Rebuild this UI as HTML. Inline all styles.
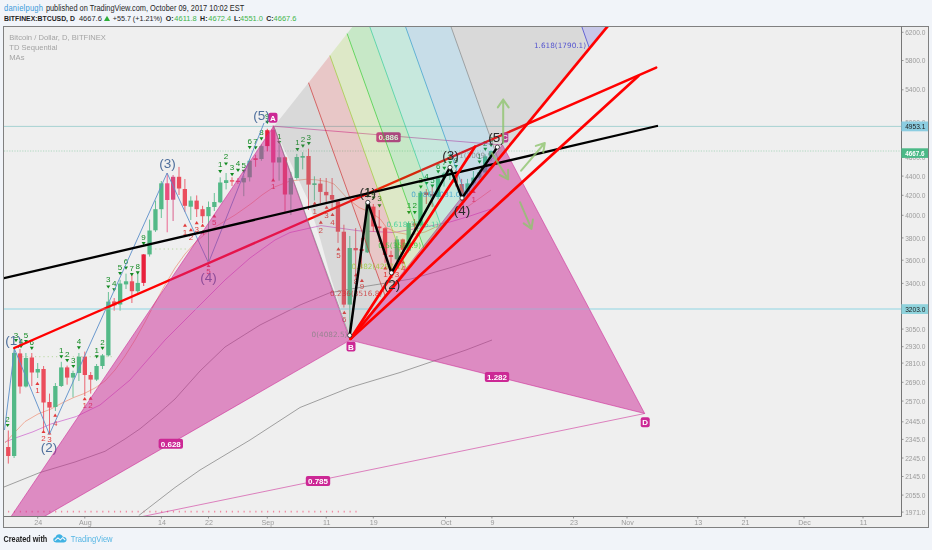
<!DOCTYPE html>
<html><head><meta charset="utf-8"><title>BTCUSD chart</title>
<style>
html,body{margin:0;padding:0}
body{width:932px;height:550px;background:#f1f4f9;position:relative;overflow:hidden;font-family:"Liberation Sans",sans-serif}
.h1,.h2,.ft{position:absolute;white-space:nowrap;color:#1f1f1f}
.h1{left:4px;top:2.6px;font-size:7.4px;line-height:12px;transform:scaleY(1.1);transform-origin:0 50%}
.h1 b{font-weight:normal;color:#3a9ad9;letter-spacing:.2px;font-size:7.6px}
.h1 span{position:absolute;left:41.9px;top:0}
.h2{left:0;top:12.9px;font-size:7.5px;line-height:12px;height:12px;width:300px;transform:scaleY(1.05);transform-origin:0 50%}
.h2 b,.h2 span,.h2 i{position:absolute;top:0}
.h2 b{font-weight:bold;font-size:7px}
.h2 i{font-style:normal;color:#3fb54a}
.h2 i.tri{left:103.9px;top:3.2px;width:0;height:0;border-left:3.1px solid transparent;border-right:3.1px solid transparent;border-bottom:5.6px solid #2fae3a}
.ft{left:3.5px;top:532.8px;font-size:7.3px;line-height:14px;font-weight:bold;color:#222;transform:scaleY(1.12);transform-origin:0 50%}
.ft span{position:absolute;left:67.3px;top:0;font-weight:normal;font-size:7.6px;color:#56b6e4}
svg text{font-family:"Liberation Sans",sans-serif}
.ax{font-size:6.6px;fill:#9a9a9a}
.axt{font-size:7.1px;fill:#9a9a9a}
.td{font-size:8px;text-anchor:middle}
.fl{font-size:7.3px;font-family:"DejaVu Sans","Liberation Sans",sans-serif}
.xl{font-size:8px;font-weight:bold}
.ew{font-size:13.5px}
.lg{font-size:7.6px;fill:#a4a4a4}
</style></head><body>
<div class="h1"><b>danielpugh</b><span>published on TradingView.com, October 09, 2017 10:02 EST</span></div>
<div class="h2"><b style="left:4px;font-size:6.87px">BITFINEX:BTCUSD, D</b><span style="left:78.9px">4667.6</span><i class="tri"></i><span style="left:112.7px;font-size:7.2px">+55.7 (+1.21%)</span><b style="left:165.8px">O:</b><i style="left:174.3px">4611.8</i><b style="left:200.1px">H:</b><i style="left:208.3px">4672.4</i><b style="left:234.1px">L:</b><i style="left:240.1px">4551.0</i><b style="left:266.2px">C:</b><i style="left:273.6px">4667.6</i></div>
<svg width="932" height="550" viewBox="0 0 932 550" style="position:absolute;left:0;top:0;will-change:transform">
<defs><clipPath id="cp"><rect x="4" y="27" width="897" height="489"/></clipPath></defs>
<rect x="3.5" y="26.5" width="925" height="501" fill="#efefef" stroke="#808080" stroke-width="1"/>
<g clip-path="url(#cp)">
<line x1="4" y1="309" x2="901" y2="309" stroke="#96d6df" stroke-width="1.2"/>
<line x1="4" y1="126.4" x2="901" y2="126.4" stroke="#a6d2d2" stroke-width="1"/>
<line x1="4" y1="151" x2="901" y2="151" stroke="#7cc79c" stroke-opacity=".62" stroke-width=".9" stroke-dasharray="1.2 1.4"/>
<line x1="14" y1="356.7" x2="112" y2="356.7" stroke="#b8d8a0" stroke-width="1" stroke-dasharray="1.2 3"/>
<line x1="151" y1="249" x2="187" y2="249" stroke="#b8d8a0" stroke-width="1" stroke-dasharray="1.2 3"/>
<line x1="8" y1="511.6" x2="358" y2="511.6" stroke="#f08aa0" stroke-width="1.6" stroke-dasharray="1.2 4.688"/>
<polyline points="4.0,487.0 40.0,472.5 75.0,462.0 105.0,451.3 125.0,439.0 140.0,428.8 158.0,414.0 175.0,399.0 200.0,371.0 225.0,347.0 260.0,325.0 300.0,305.0 329.7,292.8 367.8,286.0 411.0,279.0 450.0,267.8 491.0,255.0" fill="none" stroke="#8a8a8a" stroke-width="0.8" />
<polyline points="138.8,515.5 175.0,487.5 200.0,470.0 250.0,440.0 300.0,407.5 350.0,387.5 400.0,372.5 466.0,350.0 492.0,340.0" fill="none" stroke="#8a8a8a" stroke-width="0.8" />
<polyline points="5.0,442.0 15.3,438.0 33.0,431.8 50.9,424.0 76.3,416.5 100.0,405.0 130.0,380.0 165.0,340.0 200.0,305.0 225.0,280.0 250.0,258.0 275.0,240.0 290.0,232.5 321.0,225.6 359.0,230.8 393.7,232.5 420.0,228.0 450.0,222.0 470.0,216.0 491.0,209.0" fill="none" stroke="#d070d0" stroke-width="0.8" />
<polyline points="5.0,443.0 15.0,432.0 25.0,421.6 38.0,414.0 51.0,409.0 62.0,403.0 74.0,397.4 84.0,393.6 95.0,388.0 105.0,381.0 115.0,370.0 125.0,356.0 135.0,340.0 145.0,322.0 155.0,303.0 165.0,285.0 175.0,268.0 185.0,254.0 195.0,243.0 205.0,234.0 215.0,227.0 225.0,221.0 235.0,215.0 245.0,208.0 252.0,203.0 262.0,195.0 273.0,187.6 290.0,181.0 306.0,179.3 316.0,179.8 327.0,181.5 334.0,184.0 340.6,191.0 347.0,198.0 359.0,207.5 371.0,212.6 380.0,218.7 386.8,228.0 397.0,232.5 411.0,235.0 425.0,232.0 440.0,225.0 455.0,215.0 470.0,205.0 480.0,198.0 491.0,190.0" fill="none" stroke="#ee9a84" stroke-width="0.8" />
<line x1="8.3" y1="430.5" x2="8.3" y2="463.6" stroke="#eb4d5c" stroke-width="1" opacity=".85"/>
<rect x="6.1" y="447.0" width="4.3" height="9.0" fill="#eb4d5c"/>
<line x1="14.1" y1="349.0" x2="14.1" y2="458.0" stroke="#53b987" stroke-width="1" opacity=".85"/>
<rect x="12.0" y="352.9" width="4.3" height="103.1" fill="#53b987"/>
<line x1="20.0" y1="349.0" x2="20.0" y2="393.6" stroke="#eb4d5c" stroke-width="1" opacity=".85"/>
<rect x="17.9" y="353.4" width="4.3" height="33.1" fill="#eb4d5c"/>
<line x1="25.9" y1="353.0" x2="25.9" y2="387.5" stroke="#53b987" stroke-width="1" opacity=".85"/>
<rect x="23.8" y="358.0" width="4.3" height="28.5" fill="#53b987"/>
<line x1="31.8" y1="353.0" x2="31.8" y2="386.0" stroke="#eb4d5c" stroke-width="1" opacity=".85"/>
<rect x="29.7" y="357.5" width="4.3" height="15.0" fill="#eb4d5c"/>
<line x1="37.7" y1="363.0" x2="37.7" y2="378.0" stroke="#53b987" stroke-width="1" opacity=".85"/>
<rect x="35.6" y="369.0" width="4.3" height="3.5" fill="#53b987"/>
<line x1="43.6" y1="366.0" x2="43.6" y2="430.5" stroke="#eb4d5c" stroke-width="1" opacity=".85"/>
<rect x="41.4" y="369.0" width="4.3" height="33.5" fill="#eb4d5c"/>
<line x1="49.5" y1="393.6" x2="49.5" y2="434.0" stroke="#eb4d5c" stroke-width="1" opacity=".85"/>
<rect x="47.3" y="402.0" width="4.3" height="5.6" fill="#eb4d5c"/>
<line x1="55.4" y1="383.0" x2="55.4" y2="411.0" stroke="#53b987" stroke-width="1" opacity=".85"/>
<rect x="53.2" y="386.0" width="4.3" height="21.0" fill="#53b987"/>
<line x1="61.3" y1="361.8" x2="61.3" y2="387.0" stroke="#53b987" stroke-width="1" opacity=".85"/>
<rect x="59.1" y="367.4" width="4.3" height="18.6" fill="#53b987"/>
<line x1="67.1" y1="365.6" x2="67.1" y2="384.7" stroke="#eb4d5c" stroke-width="1" opacity=".85"/>
<rect x="65.0" y="367.4" width="4.3" height="10.2" fill="#eb4d5c"/>
<line x1="73.0" y1="370.7" x2="73.0" y2="397.4" stroke="#53b987" stroke-width="1" opacity=".85"/>
<rect x="70.9" y="373.0" width="4.3" height="4.6" fill="#53b987"/>
<line x1="78.9" y1="353.0" x2="78.9" y2="381.0" stroke="#53b987" stroke-width="1" opacity=".85"/>
<rect x="76.8" y="356.7" width="4.3" height="16.3" fill="#53b987"/>
<line x1="84.8" y1="351.6" x2="84.8" y2="396.0" stroke="#eb4d5c" stroke-width="1" opacity=".85"/>
<rect x="82.7" y="356.7" width="4.3" height="18.3" fill="#eb4d5c"/>
<line x1="90.7" y1="372.0" x2="90.7" y2="393.6" stroke="#eb4d5c" stroke-width="1" opacity=".85"/>
<rect x="88.5" y="375.0" width="4.3" height="4.6" fill="#eb4d5c"/>
<line x1="96.6" y1="364.0" x2="96.6" y2="381.0" stroke="#53b987" stroke-width="1" opacity=".85"/>
<rect x="94.4" y="366.0" width="4.3" height="13.6" fill="#53b987"/>
<line x1="102.5" y1="354.0" x2="102.5" y2="369.0" stroke="#53b987" stroke-width="1" opacity=".85"/>
<rect x="100.3" y="355.4" width="4.3" height="10.6" fill="#53b987"/>
<line x1="108.4" y1="292.0" x2="108.4" y2="356.5" stroke="#53b987" stroke-width="1" opacity=".85"/>
<rect x="106.2" y="301.6" width="4.3" height="53.8" fill="#53b987"/>
<line x1="114.2" y1="298.0" x2="114.2" y2="310.7" stroke="#eb4d5c" stroke-width="1" opacity=".85"/>
<rect x="112.1" y="301.4" width="4.3" height="4.0" fill="#eb4d5c"/>
<line x1="120.1" y1="279.8" x2="120.1" y2="310.7" stroke="#53b987" stroke-width="1" opacity=".85"/>
<rect x="118.0" y="283.5" width="4.3" height="21.0" fill="#53b987"/>
<line x1="126.0" y1="273.6" x2="126.0" y2="289.0" stroke="#53b987" stroke-width="1" opacity=".85"/>
<rect x="123.9" y="281.3" width="4.3" height="3.1" fill="#53b987"/>
<line x1="131.9" y1="273.6" x2="131.9" y2="303.0" stroke="#eb4d5c" stroke-width="1" opacity=".85"/>
<rect x="129.8" y="281.3" width="4.3" height="9.9" fill="#eb4d5c"/>
<line x1="137.8" y1="272.0" x2="137.8" y2="295.0" stroke="#53b987" stroke-width="1" opacity=".85"/>
<rect x="135.6" y="282.9" width="4.3" height="8.3" fill="#53b987"/>
<line x1="143.7" y1="254.0" x2="143.7" y2="286.0" stroke="#e8203c" stroke-width="1" opacity=".85"/>
<rect x="141.5" y="254.4" width="4.3" height="28.5" fill="#e8203c"/>
<line x1="149.6" y1="219.6" x2="149.6" y2="256.6" stroke="#53b987" stroke-width="1" opacity=".85"/>
<rect x="147.4" y="230.5" width="4.3" height="23.9" fill="#53b987"/>
<line x1="155.5" y1="200.6" x2="155.5" y2="231.9" stroke="#53b987" stroke-width="1" opacity=".85"/>
<rect x="153.3" y="209.2" width="4.3" height="21.1" fill="#53b987"/>
<line x1="161.3" y1="181.0" x2="161.3" y2="218.0" stroke="#53b987" stroke-width="1" opacity=".85"/>
<rect x="159.2" y="183.3" width="4.3" height="25.9" fill="#53b987"/>
<line x1="167.2" y1="173.0" x2="167.2" y2="232.3" stroke="#ea4f7e" stroke-width="1" opacity=".85"/>
<rect x="165.1" y="183.3" width="4.3" height="16.7" fill="#ea4f7e"/>
<line x1="173.1" y1="175.0" x2="173.1" y2="221.0" stroke="#d8487c" stroke-width="1" opacity=".85"/>
<rect x="171.0" y="176.8" width="4.3" height="22.9" fill="#d8487c"/>
<line x1="179.0" y1="166.9" x2="179.0" y2="195.0" stroke="#eb4d5c" stroke-width="1" opacity=".85"/>
<rect x="176.9" y="176.8" width="4.3" height="11.7" fill="#eb4d5c"/>
<line x1="184.9" y1="179.0" x2="184.9" y2="211.8" stroke="#eb4d5c" stroke-width="1" opacity=".85"/>
<rect x="182.7" y="189.0" width="4.3" height="16.8" fill="#eb4d5c"/>
<line x1="190.8" y1="196.3" x2="190.8" y2="220.0" stroke="#53b987" stroke-width="1" opacity=".85"/>
<rect x="188.6" y="200.6" width="4.3" height="6.1" fill="#53b987"/>
<line x1="196.7" y1="195.4" x2="196.7" y2="217.0" stroke="#eb4d5c" stroke-width="1" opacity=".85"/>
<rect x="194.5" y="200.6" width="4.3" height="8.6" fill="#eb4d5c"/>
<line x1="202.6" y1="205.8" x2="202.6" y2="223.0" stroke="#eb4d5c" stroke-width="1" opacity=".85"/>
<rect x="200.4" y="209.2" width="4.3" height="7.0" fill="#eb4d5c"/>
<line x1="208.5" y1="201.5" x2="208.5" y2="261.0" stroke="#53b987" stroke-width="1" opacity=".85"/>
<rect x="206.3" y="207.0" width="4.3" height="9.2" fill="#53b987"/>
<line x1="214.3" y1="193.0" x2="214.3" y2="211.0" stroke="#53b987" stroke-width="1" opacity=".85"/>
<rect x="212.2" y="202.0" width="4.3" height="5.0" fill="#53b987"/>
<line x1="220.2" y1="177.3" x2="220.2" y2="203.2" stroke="#53b987" stroke-width="1" opacity=".85"/>
<rect x="218.1" y="182.5" width="4.3" height="19.8" fill="#53b987"/>
<line x1="226.1" y1="173.0" x2="226.1" y2="189.4" stroke="#53b987" stroke-width="1" opacity=".85"/>
<rect x="224.0" y="180.2" width="4.3" height="2.8" fill="#53b987"/>
<line x1="232.0" y1="177.3" x2="232.0" y2="186.0" stroke="#eb4d5c" stroke-width="1" opacity=".85"/>
<rect x="229.9" y="180.2" width="4.3" height="1.4" fill="#eb4d5c"/>
<line x1="237.9" y1="178.0" x2="237.9" y2="184.0" stroke="#eb4d5c" stroke-width="1" opacity=".85"/>
<rect x="235.7" y="180.7" width="4.3" height="1.3" fill="#eb4d5c"/>
<line x1="243.8" y1="175.5" x2="243.8" y2="196.2" stroke="#53b987" stroke-width="1" opacity=".85"/>
<rect x="241.6" y="178.0" width="4.3" height="4.4" fill="#53b987"/>
<line x1="249.7" y1="159.0" x2="249.7" y2="181.5" stroke="#53b987" stroke-width="1" opacity=".85"/>
<rect x="247.5" y="160.8" width="4.3" height="16.5" fill="#53b987"/>
<line x1="255.6" y1="154.7" x2="255.6" y2="166.8" stroke="#eb4d5c" stroke-width="1" opacity=".85"/>
<rect x="253.4" y="158.2" width="4.3" height="1.8" fill="#eb4d5c"/>
<line x1="261.4" y1="144.4" x2="261.4" y2="160.8" stroke="#53b987" stroke-width="1" opacity=".85"/>
<rect x="259.3" y="146.1" width="4.3" height="12.9" fill="#53b987"/>
<line x1="267.3" y1="128.8" x2="267.3" y2="151.3" stroke="#e8203c" stroke-width="1" opacity=".85"/>
<rect x="265.2" y="130.2" width="4.3" height="15.9" fill="#e8203c"/>
<line x1="273.2" y1="125.4" x2="273.2" y2="180.7" stroke="#ea4f7e" stroke-width="1" opacity=".85"/>
<rect x="271.1" y="129.7" width="4.3" height="32.8" fill="#ea4f7e"/>
<line x1="279.1" y1="144.4" x2="279.1" y2="180.7" stroke="#53b987" stroke-width="1" opacity=".85"/>
<rect x="277.0" y="157.3" width="4.3" height="5.2" fill="#53b987"/>
<line x1="285.0" y1="156.5" x2="285.0" y2="212.0" stroke="#eb4d5c" stroke-width="1" opacity=".85"/>
<rect x="282.8" y="157.3" width="4.3" height="37.2" fill="#eb4d5c"/>
<line x1="290.9" y1="172.0" x2="290.9" y2="215.0" stroke="#53b987" stroke-width="1" opacity=".85"/>
<rect x="288.7" y="178.0" width="4.3" height="16.5" fill="#53b987"/>
<line x1="296.8" y1="153.9" x2="296.8" y2="179.8" stroke="#53b987" stroke-width="1" opacity=".85"/>
<rect x="294.6" y="157.0" width="4.3" height="21.0" fill="#53b987"/>
<line x1="302.7" y1="152.1" x2="302.7" y2="169.4" stroke="#53b987" stroke-width="1" opacity=".85"/>
<rect x="300.5" y="156.0" width="4.3" height="1.7" fill="#53b987"/>
<line x1="308.5" y1="148.7" x2="308.5" y2="210.0" stroke="#eb4d5c" stroke-width="1" opacity=".85"/>
<rect x="306.4" y="156.0" width="4.3" height="28.6" fill="#eb4d5c"/>
<line x1="314.4" y1="176.3" x2="314.4" y2="200.5" stroke="#53b987" stroke-width="1" opacity=".85"/>
<rect x="312.3" y="183.3" width="4.3" height="1.7" fill="#53b987"/>
<line x1="320.3" y1="178.0" x2="320.3" y2="203.0" stroke="#eb4d5c" stroke-width="1" opacity=".85"/>
<rect x="318.2" y="183.6" width="4.3" height="8.3" fill="#eb4d5c"/>
<line x1="326.2" y1="178.0" x2="326.2" y2="204.0" stroke="#eb4d5c" stroke-width="1" opacity=".85"/>
<rect x="324.1" y="191.9" width="4.3" height="3.4" fill="#eb4d5c"/>
<line x1="332.1" y1="178.0" x2="332.1" y2="210.0" stroke="#eb4d5c" stroke-width="1" opacity=".85"/>
<rect x="329.9" y="195.0" width="4.3" height="4.7" fill="#eb4d5c"/>
<line x1="338.0" y1="200.5" x2="338.0" y2="242.9" stroke="#eb4d5c" stroke-width="1" opacity=".85"/>
<rect x="335.8" y="201.4" width="4.3" height="30.3" fill="#eb4d5c"/>
<line x1="343.9" y1="224.7" x2="343.9" y2="307.5" stroke="#eb4d5c" stroke-width="1" opacity=".85"/>
<rect x="341.7" y="231.7" width="4.3" height="72.9" fill="#eb4d5c"/>
<line x1="349.8" y1="236.0" x2="349.8" y2="335.0" stroke="#53b987" stroke-width="1" opacity=".85"/>
<rect x="347.6" y="248.0" width="4.3" height="56.6" fill="#53b987"/>
<line x1="355.7" y1="228.0" x2="355.7" y2="280.0" stroke="#eb4d5c" stroke-width="1" opacity=".85"/>
<rect x="353.5" y="248.0" width="4.3" height="2.3" fill="#eb4d5c"/>
<line x1="361.5" y1="238.0" x2="361.5" y2="268.0" stroke="#eb4d5c" stroke-width="1" opacity=".85"/>
<rect x="359.4" y="249.0" width="4.3" height="2.0" fill="#eb4d5c"/>
<line x1="367.4" y1="200.0" x2="367.4" y2="253.0" stroke="#53b987" stroke-width="1" opacity=".85"/>
<rect x="365.3" y="203.0" width="4.3" height="49.4" fill="#53b987"/>
<line x1="373.3" y1="204.0" x2="373.3" y2="231.7" stroke="#eb4d5c" stroke-width="1" opacity=".85"/>
<rect x="371.2" y="206.6" width="4.3" height="19.9" fill="#eb4d5c"/>
<line x1="379.2" y1="210.0" x2="379.2" y2="242.0" stroke="#eb4d5c" stroke-width="1" opacity=".85"/>
<rect x="377.1" y="226.5" width="4.3" height="1.7" fill="#eb4d5c"/>
<line x1="385.1" y1="227.0" x2="385.1" y2="262.8" stroke="#eb4d5c" stroke-width="1" opacity=".85"/>
<rect x="382.9" y="228.2" width="4.3" height="26.8" fill="#eb4d5c"/>
<line x1="391.0" y1="250.7" x2="391.0" y2="271.4" stroke="#eb4d5c" stroke-width="1" opacity=".85"/>
<rect x="388.8" y="255.0" width="4.3" height="2.0" fill="#eb4d5c"/>
<line x1="396.9" y1="236.0" x2="396.9" y2="261.0" stroke="#53b987" stroke-width="1" opacity=".85"/>
<rect x="394.7" y="239.4" width="4.3" height="19.9" fill="#53b987"/>
<line x1="402.8" y1="238.6" x2="402.8" y2="254.0" stroke="#eb4d5c" stroke-width="1" opacity=".85"/>
<rect x="400.6" y="239.4" width="4.3" height="10.4" fill="#eb4d5c"/>
<line x1="408.6" y1="221.3" x2="408.6" y2="252.4" stroke="#53b987" stroke-width="1" opacity=".85"/>
<rect x="406.5" y="223.0" width="4.3" height="27.7" fill="#53b987"/>
<line x1="414.5" y1="219.0" x2="414.5" y2="229.0" stroke="#eb4d5c" stroke-width="1" opacity=".85"/>
<rect x="412.4" y="223.4" width="4.3" height="2.2" fill="#eb4d5c"/>
<line x1="420.4" y1="191.0" x2="420.4" y2="226.5" stroke="#53b987" stroke-width="1" opacity=".85"/>
<rect x="418.3" y="192.8" width="4.3" height="32.8" fill="#53b987"/>
<line x1="426.3" y1="189.0" x2="426.3" y2="204.0" stroke="#eb4d5c" stroke-width="1" opacity=".85"/>
<rect x="424.2" y="192.4" width="4.3" height="2.6" fill="#eb4d5c"/>
<line x1="432.2" y1="186.6" x2="432.2" y2="207.0" stroke="#eb4d5c" stroke-width="1" opacity=".85"/>
<rect x="430.0" y="194.0" width="4.3" height="2.0" fill="#eb4d5c"/>
<line x1="438.1" y1="177.0" x2="438.1" y2="199.5" stroke="#53b987" stroke-width="1" opacity=".85"/>
<rect x="435.9" y="178.2" width="4.3" height="18.8" fill="#53b987"/>
<line x1="444.0" y1="171.8" x2="444.0" y2="186.6" stroke="#53b987" stroke-width="1" opacity=".85"/>
<rect x="441.8" y="173.5" width="4.3" height="4.7" fill="#53b987"/>
<line x1="449.9" y1="169.0" x2="449.9" y2="180.0" stroke="#53b987" stroke-width="1" opacity=".85"/>
<rect x="447.7" y="173.0" width="4.3" height="1.5" fill="#53b987"/>
<line x1="455.7" y1="170.0" x2="455.7" y2="186.6" stroke="#eb4d5c" stroke-width="1" opacity=".85"/>
<rect x="453.6" y="175.0" width="4.3" height="7.7" fill="#eb4d5c"/>
<line x1="461.6" y1="178.9" x2="461.6" y2="197.0" stroke="#eb4d5c" stroke-width="1" opacity=".85"/>
<rect x="459.5" y="184.0" width="4.3" height="11.6" fill="#eb4d5c"/>
<line x1="467.5" y1="178.9" x2="467.5" y2="195.6" stroke="#53b987" stroke-width="1" opacity=".85"/>
<rect x="465.4" y="183.4" width="4.3" height="8.4" fill="#53b987"/>
<line x1="473.4" y1="171.0" x2="473.4" y2="185.3" stroke="#53b987" stroke-width="1" opacity=".85"/>
<rect x="471.3" y="177.6" width="4.3" height="5.8" fill="#53b987"/>
<line x1="479.3" y1="169.8" x2="479.3" y2="179.5" stroke="#53b987" stroke-width="1" opacity=".85"/>
<rect x="477.1" y="172.4" width="4.3" height="5.2" fill="#53b987"/>
<line x1="485.2" y1="154.4" x2="485.2" y2="173.7" stroke="#53b987" stroke-width="1" opacity=".85"/>
<rect x="483.0" y="156.3" width="4.3" height="16.1" fill="#53b987"/>
<line x1="491.1" y1="150.5" x2="491.1" y2="160.8" stroke="#53b987" stroke-width="1" opacity=".85"/>
<rect x="488.9" y="151.1" width="4.3" height="5.2" fill="#53b987"/>
<text x="7.6" y="421.6" fill="#128a22" class="td">2</text>
<path d="M5.6 423.9h4l-2 3.2z" fill="#128a22"/>
<text x="16.0" y="337.6" fill="#128a22" class="td">3</text>
<path d="M14.0 339.0h4l-2 3.2z" fill="#128a22"/>
<text x="21.0" y="344.1" fill="#128a22" class="td">4</text>
<path d="M19.0 345.0h4l-2 3.2z" fill="#128a22"/>
<text x="26.0" y="338.2" fill="#128a22" class="td">5</text>
<path d="M24.0 340.0h4l-2 3.2z" fill="#128a22"/>
<text x="31.8" y="345.3" fill="#128a22" class="td">6</text>
<path d="M29.8 346.8h4l-2 3.2z" fill="#128a22"/>
<text x="61.3" y="353.0" fill="#128a22" class="td">1</text>
<path d="M59.3 355.2h4l-2 3.2z" fill="#128a22"/>
<text x="67.2" y="357.3" fill="#128a22" class="td">2</text>
<path d="M65.2 359.0h4l-2 3.2z" fill="#128a22"/>
<text x="73.3" y="363.1" fill="#128a22" class="td">3</text>
<path d="M71.3 364.9h4l-2 3.2z" fill="#128a22"/>
<text x="78.9" y="344.1" fill="#128a22" class="td">4</text>
<path d="M76.9 346.3h4l-2 3.2z" fill="#128a22"/>
<text x="96.7" y="353.0" fill="#128a22" class="td">1</text>
<path d="M94.7 355.2h4l-2 3.2z" fill="#128a22"/>
<text x="102.5" y="344.6" fill="#128a22" class="td">2</text>
<path d="M100.5 346.8h4l-2 3.2z" fill="#128a22"/>
<text x="108.3" y="282.4" fill="#128a22" class="td">3</text>
<path d="M106.3 285.4h4l-2 3.2z" fill="#128a22"/>
<text x="114.2" y="285.5" fill="#128a22" class="td">4</text>
<path d="M112.2 288.2h4l-2 3.2z" fill="#128a22"/>
<text x="120.1" y="270.0" fill="#128a22" class="td">5</text>
<path d="M118.1 272.1h4l-2 3.2z" fill="#128a22"/>
<text x="126.0" y="263.8" fill="#128a22" class="td">6</text>
<path d="M124.0 266.5h4l-2 3.2z" fill="#128a22"/>
<text x="131.8" y="271.0" fill="#128a22" class="td">7</text>
<path d="M129.8 273.0h4l-2 3.2z" fill="#128a22"/>
<text x="137.7" y="268.5" fill="#128a22" class="td">8</text>
<path d="M135.7 271.2h4l-2 3.2z" fill="#128a22"/>
<text x="143.6" y="240.1" fill="#128a22" class="td">9</text>
<path d="M141.6 242.1h4l-2 3.2z" fill="#128a22"/>
<text x="220.2" y="167.4" fill="#128a22" class="td">1</text>
<path d="M218.2 170.1h4l-2 3.2z" fill="#128a22"/>
<text x="226.0" y="159.4" fill="#128a22" class="td">2</text>
<path d="M224.0 162.4h4l-2 3.2z" fill="#128a22"/>
<text x="232.1" y="170.3" fill="#128a22" class="td">3</text>
<path d="M230.1 173.1h4l-2 3.2z" fill="#128a22"/>
<text x="238.0" y="166.0" fill="#128a22" class="td">4</text>
<path d="M236.0 168.8h4l-2 3.2z" fill="#128a22"/>
<text x="243.8" y="167.7" fill="#128a22" class="td">5</text>
<path d="M241.8 169.7h4l-2 3.2z" fill="#128a22"/>
<text x="249.7" y="143.5" fill="#128a22" class="td">6</text>
<path d="M247.7 146.0h4l-2 3.2z" fill="#128a22"/>
<text x="255.6" y="143.5" fill="#128a22" class="td">7</text>
<path d="M253.6 146.3h4l-2 3.2z" fill="#128a22"/>
<text x="261.4" y="134.9" fill="#128a22" class="td">8</text>
<path d="M259.4 137.3h4l-2 3.2z" fill="#128a22"/>
<text x="267.3" y="119.3" fill="#128a22" class="td">9</text>
<path d="M265.3 120.8h4l-2 3.2z" fill="#128a22"/>
<text x="279.2" y="139.2" fill="#128a22" class="td">1</text>
<path d="M277.2 141.1h4l-2 3.2z" fill="#128a22"/>
<text x="297.4" y="145.2" fill="#128a22" class="td">1</text>
<path d="M295.4 148.1h4l-2 3.2z" fill="#128a22"/>
<text x="302.9" y="141.8" fill="#128a22" class="td">2</text>
<path d="M300.9 144.6h4l-2 3.2z" fill="#128a22"/>
<text x="308.8" y="139.7" fill="#128a22" class="td">3</text>
<path d="M306.8 142.0h4l-2 3.2z" fill="#128a22"/>
<text x="367.8" y="192.6" fill="#128a22" class="td">1</text>
<path d="M365.8 194.5h4l-2 3.2z" fill="#128a22"/>
<text x="373.6" y="194.6" fill="#128a22" class="td">2</text>
<path d="M371.6 196.5h4l-2 3.2z" fill="#128a22"/>
<text x="379.5" y="201.4" fill="#128a22" class="td">3</text>
<path d="M377.5 204.2h4l-2 3.2z" fill="#128a22"/>
<text x="408.9" y="208.3" fill="#128a22" class="td">1</text>
<path d="M406.9 211.1h4l-2 3.2z" fill="#128a22"/>
<text x="414.8" y="208.3" fill="#128a22" class="td">2</text>
<path d="M412.8 211.1h4l-2 3.2z" fill="#128a22"/>
<text x="420.8" y="183.1" fill="#128a22" class="td">3</text>
<path d="M418.8 185.5h4l-2 3.2z" fill="#128a22"/>
<text x="426.6" y="178.9" fill="#128a22" class="td">4</text>
<path d="M424.6 181.9h4l-2 3.2z" fill="#128a22"/>
<text x="432.4" y="182.8" fill="#128a22" class="td">5</text>
<path d="M430.4 184.5h4l-2 3.2z" fill="#128a22"/>
<text x="438.2" y="168.6" fill="#128a22" class="td">6</text>
<path d="M436.2 170.3h4l-2 3.2z" fill="#128a22"/>
<text x="444.3" y="164.6" fill="#128a22" class="td">7</text>
<path d="M442.3 166.8h4l-2 3.2z" fill="#128a22"/>
<text x="450.2" y="159.1" fill="#128a22" class="td">8</text>
<path d="M448.2 161.2h4l-2 3.2z" fill="#128a22"/>
<text x="456.0" y="163.1" fill="#128a22" class="td">9</text>
<path d="M454.0 165.1h4l-2 3.2z" fill="#128a22"/>
<text x="479.5" y="158.6" fill="#128a22" class="td">1</text>
<path d="M477.5 160.6h4l-2 3.2z" fill="#128a22"/>
<text x="485.3" y="145.6" fill="#128a22" class="td">2</text>
<path d="M483.3 147.7h4l-2 3.2z" fill="#128a22"/>
<text x="491.1" y="141.6" fill="#128a22" class="td">3</text>
<path d="M489.1 143.8h4l-2 3.2z" fill="#128a22"/>
<path d="M35.4 385.0h4l-2 -3.2z" fill="#e23a3a"/>
<text x="37.4" y="393.2" fill="#e23a3a" class="td">1</text>
<path d="M41.5 432.9h4l-2 -3.2z" fill="#e23a3a"/>
<text x="43.5" y="440.6" fill="#e23a3a" class="td">2</text>
<path d="M47.4 434.6h4l-2 -3.2z" fill="#e23a3a"/>
<text x="49.4" y="442.1" fill="#e23a3a" class="td">3</text>
<path d="M53.2 416.8h4l-2 -3.2z" fill="#e23a3a"/>
<text x="55.2" y="425.6" fill="#e23a3a" class="td">4</text>
<path d="M82.7 400.3h4l-2 -3.2z" fill="#e23a3a"/>
<text x="84.7" y="407.6" fill="#e23a3a" class="td">1</text>
<path d="M88.6 399.8h4l-2 -3.2z" fill="#e23a3a"/>
<text x="90.6" y="407.6" fill="#e23a3a" class="td">2</text>
<path d="M183.0 226.7h4l-2 -3.2z" fill="#e23a3a"/>
<text x="185.0" y="234.5" fill="#e23a3a" class="td">1</text>
<path d="M188.9 231.3h4l-2 -3.2z" fill="#e23a3a"/>
<text x="190.9" y="240.1" fill="#e23a3a" class="td">2</text>
<path d="M194.7 224.2h4l-2 -3.2z" fill="#e23a3a"/>
<text x="196.7" y="232.3" fill="#e23a3a" class="td">3</text>
<path d="M200.6 226.7h4l-2 -3.2z" fill="#e23a3a"/>
<text x="202.6" y="234.5" fill="#e23a3a" class="td">4</text>
<path d="M212.3 217.4h4l-2 -3.2z" fill="#e23a3a"/>
<text x="214.3" y="225.2" fill="#e23a3a" class="td">5</text>
<path d="M206.5 267.1h4l-2 -3.2z" fill="#e23a3a"/>
<text x="208.5" y="274.4" fill="#e23a3a" class="td">5</text>
<path d="M271.2 181.4h4l-2 -3.2z" fill="#e23a3a"/>
<text x="273.2" y="188.8" fill="#e23a3a" class="td">1</text>
<path d="M312.7 204.7h4l-2 -3.2z" fill="#e23a3a"/>
<text x="314.7" y="213.5" fill="#e23a3a" class="td">1</text>
<path d="M318.8 223.7h4l-2 -3.2z" fill="#e23a3a"/>
<text x="320.8" y="232.9" fill="#e23a3a" class="td">2</text>
<path d="M324.6 208.7h4l-2 -3.2z" fill="#e23a3a"/>
<text x="326.6" y="218.4" fill="#e23a3a" class="td">3</text>
<path d="M330.5 216.0h4l-2 -3.2z" fill="#e23a3a"/>
<text x="332.5" y="224.7" fill="#e23a3a" class="td">4</text>
<path d="M336.4 250.5h4l-2 -3.2z" fill="#e23a3a"/>
<text x="338.4" y="258.4" fill="#e23a3a" class="td">5</text>
<path d="M342.3 314.0h4l-2 -3.2z" fill="#e23a3a"/>
<text x="344.3" y="322.2" fill="#e23a3a" class="td">6</text>
<path d="M354.0 276.3h4l-2 -3.2z" fill="#e23a3a"/>
<text x="356.0" y="284.2" fill="#e23a3a" class="td">8</text>
<path d="M359.9 282.0h4l-2 -3.2z" fill="#e23a3a"/>
<text x="361.9" y="289.4" fill="#e23a3a" class="td">9</text>
<path d="M383.4 269.5h4l-2 -3.2z" fill="#e23a3a"/>
<text x="385.4" y="277.4" fill="#e23a3a" class="td">1</text>
<path d="M389.3 270.1h4l-2 -3.2z" fill="#e23a3a"/>
<text x="391.3" y="278.1" fill="#e23a3a" class="td">2</text>
<path d="M395.1 267.8h4l-2 -3.2z" fill="#e23a3a"/>
<text x="397.1" y="277.4" fill="#e23a3a" class="td">3</text>
<path d="M401.2 263.5h4l-2 -3.2z" fill="#e23a3a"/>
<text x="403.2" y="271.1" fill="#e23a3a" class="td">4</text>
<path d="M471.7 193.0h4l-2 -3.2z" fill="#e23a3a"/>
<text x="473.7" y="201.5" fill="#e23a3a" class="td">1</text>
<path d="M460.1 201.6h4l-2 -3.2z" fill="#e23a3a"/>
<text x="462.1" y="209.1" fill="#e23a3a" class="td">2</text>
<polyline points="4.5,430.0 14.5,349.0 49.4,434.3 167.1,173.0 208.5,262.8 264.0,123.0" fill="none" stroke="#5b8fc9" stroke-width="0.9" />
<text x="13.5" y="345" fill="#4f6f9c" text-anchor="middle" class="ew">(1)</text>
<text x="49" y="452" fill="#4f6f9c" text-anchor="middle" class="ew">(2)</text>
<text x="167.5" y="168" fill="#4f6f9c" text-anchor="middle" class="ew">(3)</text>
<text x="208.5" y="282" fill="#4f6f9c" text-anchor="middle" class="ew">(4)</text>
<text x="261.5" y="119.5" fill="#4f6f9c" text-anchor="middle" class="ew">(5)</text>
<line x1="14.2" y1="348" x2="656.2" y2="67.6" stroke="#ff0000" stroke-width="2.4" stroke-linecap="round"/>
<polygon points="-10.0,547.8 273.7,126.2 350.1,340.1" fill="#cc2895" fill-opacity=".5"/>
<polygon points="350.1,340.1 502.5,145.0 644.7,413.5" fill="#cc2895" fill-opacity=".5"/>
<polyline points="-10.0,547.8 273.7,126.2 350.1,340.1 502.5,145.0 644.7,413.5" fill="none" stroke="#cc2895" stroke-width=".8" stroke-opacity=".7"/>
<path d="M-10 547.8L350.1 340.1L644.7 413.5M273.7 126.2L502.5 145M-10 547.8L644.7 413.5" fill="none" stroke="#cc2895" stroke-width=".8" stroke-opacity=".7"/>
<rect x="268.5" y="112.7" width="9" height="10" rx="2" fill="#cc2895"/><text x="273.0" y="120.6" fill="#fff" text-anchor="middle" class="xl">A</text>
<rect x="346.5" y="341.6" width="9" height="10" rx="2" fill="#cc2895"/><text x="351.0" y="349.5" fill="#fff" text-anchor="middle" class="xl">B</text>
<rect x="501.8" y="132.4" width="6.5" height="10" rx="2" fill="#cc2895"/><text x="505.0" y="140.3" fill="#fff" text-anchor="middle" class="xl">C</text>
<rect x="640.7" y="417.2" width="9" height="10" rx="2" fill="#cc2895"/><text x="645.2" y="425.1" fill="#fff" text-anchor="middle" class="xl">D</text>
<rect x="158.6" y="438.8" width="24.4" height="10" rx="2" fill="#cc2895"/><text x="170.8" y="446.7" fill="#fff" text-anchor="middle" class="xl">0.628</text>
<rect x="376.3" y="132.2" width="24.4" height="10" rx="2" fill="#cc2895"/><text x="388.5" y="140.1" fill="#fff" text-anchor="middle" class="xl">0.886</text>
<rect x="484.8" y="372.0" width="24.4" height="10" rx="2" fill="#cc2895"/><text x="497.0" y="379.9" fill="#fff" text-anchor="middle" class="xl">1.282</text>
<rect x="305.8" y="476.0" width="24.4" height="10" rx="2" fill="#cc2895"/><text x="318.0" y="483.9" fill="#fff" text-anchor="middle" class="xl">0.785</text>
<polygon points="273.9,126.6 308.5,82.7 385.2,296.1 350.4,338.6 331.5,280.0 320.5,240.0 308.0,200.0 295.0,172.0 283.5,148.0" fill="#808080" fill-opacity=".2"/>
<polygon points="308.5,82.7 329.9,55.5 406.7,269.8 385.2,296.1" fill="#cc2828" fill-opacity=".2"/>
<polygon points="329.9,55.5 347.1,33.6 424.1,248.6 406.7,269.8" fill="#95cc28" fill-opacity=".2"/>
<polygon points="347.1,33.6 364.4,11.7 441.6,227.4 424.1,248.6" fill="#28cc28" fill-opacity=".2"/>
<polygon points="364.4,11.7 389.0,-19.6 466.3,197.1 441.6,227.4" fill="#28cc95" fill-opacity=".2"/>
<polygon points="389.0,-19.6 420.4,-59.4 497.9,158.6 466.3,197.1" fill="#2895cc" fill-opacity=".2"/>
<polygon points="420.4,-59.4 510.9,-174.3 589.1,47.4 497.9,158.6" fill="#808080" fill-opacity=".2"/>
<polygon points="510.9,-174.3 657.4,-360.3 736.6,-132.6 589.1,47.4" fill="#2828cc" fill-opacity=".2"/>
<line x1="273.9" y1="126.6" x2="350.4" y2="338.6" stroke="#808080" stroke-width=".8" opacity=".8"/>
<line x1="308.5" y1="82.7" x2="385.2" y2="296.1" stroke="#cc2828" stroke-width=".8" opacity=".8"/>
<line x1="329.9" y1="55.5" x2="406.7" y2="269.8" stroke="#95cc28" stroke-width=".8" opacity=".8"/>
<line x1="347.1" y1="33.6" x2="424.1" y2="248.6" stroke="#28cc28" stroke-width=".8" opacity=".8"/>
<line x1="364.4" y1="11.7" x2="441.6" y2="227.4" stroke="#28cc95" stroke-width=".8" opacity=".8"/>
<line x1="389.0" y1="-19.6" x2="466.3" y2="197.1" stroke="#2895cc" stroke-width=".8" opacity=".8"/>
<line x1="420.4" y1="-59.4" x2="497.9" y2="158.6" stroke="#808080" stroke-width=".8" opacity=".8"/>
<line x1="510.9" y1="-174.3" x2="589.1" y2="47.4" stroke="#2828cc" stroke-width=".8" opacity=".8"/>
<text x="347.4" y="336.6" fill="#808080" text-anchor="end" class="fl" opacity=".75">0(4082.5)</text>
<text x="382.2" y="295.5" fill="#cc2828" text-anchor="end" class="fl" opacity=".75">0.236(3516.8)</text>
<text x="403.7" y="269.2" fill="#95cc28" text-anchor="end" class="fl" opacity=".75">0.382(4297.1)</text>
<text x="421.1" y="248.0" fill="#28cc28" text-anchor="end" class="fl" opacity=".75">0.5(3588.9)</text>
<text x="438.6" y="226.8" fill="#28cc95" text-anchor="end" class="fl" opacity=".75">0.618(3335.1)</text>
<text x="463.3" y="196.5" fill="#2895cc" text-anchor="end" class="fl" opacity=".75">0.786(3031.0)</text>
<text x="494.9" y="158.0" fill="#808080" text-anchor="end" class="fl" opacity=".75">1(3009.5)</text>
<text x="586.1" y="48.1" fill="#2828cc" text-anchor="end" class="fl" opacity=".75">1.618(1790.1)</text>
<line x1="4" y1="309" x2="901" y2="309" stroke="#b5e4ee" stroke-width="1.3" stroke-opacity=".3"/>
<line x1="4" y1="278.2" x2="657" y2="126" stroke="#000" stroke-width="2.3" stroke-linecap="round"/>
<line x1="350.6" y1="338.8" x2="475" y2="146.7" stroke="#ff0000" stroke-width="2.7" stroke-linecap="round"/>
<line x1="350.6" y1="338.8" x2="612" y2="21" stroke="#ff0000" stroke-width="2.7"/>
<line x1="350.6" y1="338.8" x2="638.4" y2="76.1" stroke="#ff0000" stroke-width="2.7" stroke-linecap="round"/>
<polyline points="349.7,335.4 367.8,202.4 391.4,272.8 450.0,167.4 462.0,198.0 497.4,147.1" fill="none" stroke="#000" stroke-width="2.5" stroke-linejoin="round"/>
<circle cx="349.7" cy="335.4" r="2.1" fill="#fff" stroke="#222" stroke-width=".8"/>
<circle cx="367.8" cy="202.4" r="2.1" fill="#fff" stroke="#222" stroke-width=".8"/>
<circle cx="391.4" cy="272.8" r="2.1" fill="#fff" stroke="#222" stroke-width=".8"/>
<circle cx="450" cy="167.4" r="2.1" fill="#fff" stroke="#222" stroke-width=".8"/>
<circle cx="462" cy="198" r="2.1" fill="#fff" stroke="#222" stroke-width=".8"/>
<circle cx="497.4" cy="147.1" r="2.1" fill="#fff" stroke="#222" stroke-width=".8"/>
<text x="367.8" y="197" fill="#2a2a2a" text-anchor="middle" class="ew">(1)</text>
<text x="391.9" y="289.3" fill="#2a2a2a" text-anchor="middle" class="ew">(2)</text>
<text x="450.5" y="160.3" fill="#2a2a2a" text-anchor="middle" class="ew">(3)</text>
<text x="462" y="215.4" fill="#2a2a2a" text-anchor="middle" class="ew">(4)</text>
<text x="496.5" y="141.7" fill="#2a2a2a" text-anchor="middle" class="ew">(5)</text>
<path d="M503.2 142.8L503.2 99.6M508.6 107.4L503.2 99.6L497.8 107.4" fill="none" stroke="#8fc46e" stroke-opacity=".8" stroke-width="2" stroke-linecap="round" stroke-linejoin="round"/>
<path d="M521.1 170.7L544.8 143.0M543.3 152.4L544.8 143.0L535.8 145.9" fill="none" stroke="#8fc46e" stroke-opacity=".8" stroke-width="2" stroke-linecap="round" stroke-linejoin="round"/>
<path d="M491.9 153.1L508.2 179.3M499.7 175.0L508.2 179.3L508.1 169.8" fill="none" stroke="#8fc46e" stroke-opacity=".8" stroke-width="2" stroke-linecap="round" stroke-linejoin="round"/>
<path d="M520.0 202.2L531.5 228.9M523.7 223.4L531.5 228.9L532.9 219.5" fill="none" stroke="#8fc46e" stroke-opacity=".8" stroke-width="2" stroke-linecap="round" stroke-linejoin="round"/>
<text x="9.3" y="39.6" class="lg">Bitcoin / Dollar, D, BITFINEX</text>
<text x="9.3" y="50.3" class="lg">TD Sequential</text>
<text x="9.3" y="60.2" class="lg">MAs</text>
</g>
<path d="M4 516.5H901.5V26.5" fill="none" stroke="#767676" stroke-width="1"/>
<line x1="901.5" y1="32.3" x2="903.5" y2="32.3" stroke="#7d7d7d" stroke-width=".8"/>
<text x="905.2" y="34.9" class="ax">6200.0</text>
<line x1="901.5" y1="60.5" x2="903.5" y2="60.5" stroke="#7d7d7d" stroke-width=".8"/>
<text x="905.2" y="63.1" class="ax">5800.0</text>
<line x1="901.5" y1="89.8" x2="903.5" y2="89.8" stroke="#7d7d7d" stroke-width=".8"/>
<text x="905.2" y="92.4" class="ax">5400.0</text>
<line x1="901.5" y1="122.4" x2="903.5" y2="122.4" stroke="#7d7d7d" stroke-width=".8"/>
<text x="905.2" y="125.0" class="ax">5000.0</text>
<line x1="901.5" y1="157.3" x2="903.5" y2="157.3" stroke="#7d7d7d" stroke-width=".8"/>
<text x="905.2" y="159.9" class="ax">4600.0</text>
<line x1="901.5" y1="176.1" x2="903.5" y2="176.1" stroke="#7d7d7d" stroke-width=".8"/>
<text x="905.2" y="178.7" class="ax">4400.0</text>
<line x1="901.5" y1="195.3" x2="903.5" y2="195.3" stroke="#7d7d7d" stroke-width=".8"/>
<text x="905.2" y="197.9" class="ax">4200.0</text>
<line x1="901.5" y1="215.3" x2="903.5" y2="215.3" stroke="#7d7d7d" stroke-width=".8"/>
<text x="905.2" y="217.9" class="ax">4000.0</text>
<line x1="901.5" y1="237.9" x2="903.5" y2="237.9" stroke="#7d7d7d" stroke-width=".8"/>
<text x="905.2" y="240.5" class="ax">3800.0</text>
<line x1="901.5" y1="260.2" x2="903.5" y2="260.2" stroke="#7d7d7d" stroke-width=".8"/>
<text x="905.2" y="262.8" class="ax">3600.0</text>
<line x1="901.5" y1="283.4" x2="903.5" y2="283.4" stroke="#7d7d7d" stroke-width=".8"/>
<text x="905.2" y="286.0" class="ax">3400.0</text>
<line x1="901.5" y1="329.1" x2="903.5" y2="329.1" stroke="#7d7d7d" stroke-width=".8"/>
<text x="905.2" y="331.7" class="ax">3050.0</text>
<line x1="901.5" y1="346.7" x2="903.5" y2="346.7" stroke="#7d7d7d" stroke-width=".8"/>
<text x="905.2" y="349.3" class="ax">2930.0</text>
<line x1="901.5" y1="363.1" x2="903.5" y2="363.1" stroke="#7d7d7d" stroke-width=".8"/>
<text x="905.2" y="365.7" class="ax">2810.0</text>
<line x1="901.5" y1="382.3" x2="903.5" y2="382.3" stroke="#7d7d7d" stroke-width=".8"/>
<text x="905.2" y="384.9" class="ax">2690.0</text>
<line x1="901.5" y1="401.1" x2="903.5" y2="401.1" stroke="#7d7d7d" stroke-width=".8"/>
<text x="905.2" y="403.7" class="ax">2570.0</text>
<line x1="901.5" y1="421.8" x2="903.5" y2="421.8" stroke="#7d7d7d" stroke-width=".8"/>
<text x="905.2" y="424.4" class="ax">2445.0</text>
<line x1="901.5" y1="439.4" x2="903.5" y2="439.4" stroke="#7d7d7d" stroke-width=".8"/>
<text x="905.2" y="442.0" class="ax">2345.0</text>
<line x1="901.5" y1="458" x2="903.5" y2="458" stroke="#7d7d7d" stroke-width=".8"/>
<text x="905.2" y="460.6" class="ax">2245.0</text>
<line x1="901.5" y1="476.5" x2="903.5" y2="476.5" stroke="#7d7d7d" stroke-width=".8"/>
<text x="905.2" y="479.1" class="ax">2145.0</text>
<line x1="901.5" y1="495.1" x2="903.5" y2="495.1" stroke="#7d7d7d" stroke-width=".8"/>
<text x="905.2" y="497.7" class="ax">2055.0</text>
<line x1="901.5" y1="512.1" x2="903.5" y2="512.1" stroke="#7d7d7d" stroke-width=".8"/>
<text x="905.2" y="514.7" class="ax">1971.0</text>
<line x1="37.7" y1="516.5" x2="37.7" y2="518.5" stroke="#7d7d7d" stroke-width=".8"/>
<text x="38.2" y="524.9" text-anchor="middle" class="axt">24</text>
<line x1="84.8" y1="516.5" x2="84.8" y2="518.5" stroke="#7d7d7d" stroke-width=".8"/>
<text x="85.3" y="524.9" text-anchor="middle" class="axt">Aug</text>
<line x1="161.4" y1="516.5" x2="161.4" y2="518.5" stroke="#7d7d7d" stroke-width=".8"/>
<text x="161.9" y="524.9" text-anchor="middle" class="axt">14</text>
<line x1="208.5" y1="516.5" x2="208.5" y2="518.5" stroke="#7d7d7d" stroke-width=".8"/>
<text x="209.0" y="524.9" text-anchor="middle" class="axt">22</text>
<line x1="267.3" y1="516.5" x2="267.3" y2="518.5" stroke="#7d7d7d" stroke-width=".8"/>
<text x="267.8" y="524.9" text-anchor="middle" class="axt">Sep</text>
<line x1="326.2" y1="516.5" x2="326.2" y2="518.5" stroke="#7d7d7d" stroke-width=".8"/>
<text x="326.7" y="524.9" text-anchor="middle" class="axt">11</text>
<line x1="373.3" y1="516.5" x2="373.3" y2="518.5" stroke="#7d7d7d" stroke-width=".8"/>
<text x="373.8" y="524.9" text-anchor="middle" class="axt">19</text>
<line x1="445.5" y1="516.5" x2="445.5" y2="518.5" stroke="#7d7d7d" stroke-width=".8"/>
<text x="446.0" y="524.9" text-anchor="middle" class="axt">Oct</text>
<line x1="491.9" y1="516.5" x2="491.9" y2="518.5" stroke="#7d7d7d" stroke-width=".8"/>
<text x="492.4" y="524.9" text-anchor="middle" class="axt">9</text>
<line x1="573.5" y1="516.5" x2="573.5" y2="518.5" stroke="#7d7d7d" stroke-width=".8"/>
<text x="574.0" y="524.9" text-anchor="middle" class="axt">23</text>
<line x1="627" y1="516.5" x2="627" y2="518.5" stroke="#7d7d7d" stroke-width=".8"/>
<text x="627.5" y="524.9" text-anchor="middle" class="axt">Nov</text>
<line x1="697.8" y1="516.5" x2="697.8" y2="518.5" stroke="#7d7d7d" stroke-width=".8"/>
<text x="698.3" y="524.9" text-anchor="middle" class="axt">13</text>
<line x1="745" y1="516.5" x2="745" y2="518.5" stroke="#7d7d7d" stroke-width=".8"/>
<text x="745.5" y="524.9" text-anchor="middle" class="axt">21</text>
<line x1="804" y1="516.5" x2="804" y2="518.5" stroke="#7d7d7d" stroke-width=".8"/>
<text x="804.5" y="524.9" text-anchor="middle" class="axt">Dec</text>
<line x1="863" y1="516.5" x2="863" y2="518.5" stroke="#7d7d7d" stroke-width=".8"/>
<text x="863.5" y="524.9" text-anchor="middle" class="axt">11</text>
<rect x="901.4" y="121.5" width="26.6" height="9.8" fill="#8ccde1"/><text x="905.2" y="129.1" class="ax" style="fill:#1c1c1c">4953.1</text>
<rect x="901.4" y="148.3" width="26.6" height="9.6" fill="#4bb987"/><text x="905.2" y="155.8" class="ax" style="fill:#fff;font-weight:bold;font-size:6.3px">4667.6</text>
<rect x="901.4" y="304.2" width="26.6" height="9.8" fill="#8fd3dc"/><text x="905.2" y="311.7" class="ax" style="fill:#1c1c1c">3203.0</text>
</svg>
<div class="ft">Created with<span>TradingView</span></div>
<svg width="13.8" height="8.9" viewBox="0 0 32 20" style="position:absolute;left:53px;top:534px"><path d="M8 19.5C3.5 19.5 0.5 16.8 0.5 13.2c0-3.1 2.3-5.6 5.4-6C7 3.2 10.3 0.5 14.5 0.5c3.8 0 7 2.3 8.3 5.6 4.6 0.2 8.7 2.8 8.7 7.2 0 3.6-3 6.2-7 6.2z" fill="#3fb2e3"/><path d="M5 14.5l6.5-6 5.5 5 5.5-5.5 5 5" fill="none" stroke="#f1f4f9" stroke-width="2.6" stroke-linejoin="round" stroke-linecap="round"/></svg>
</body></html>
